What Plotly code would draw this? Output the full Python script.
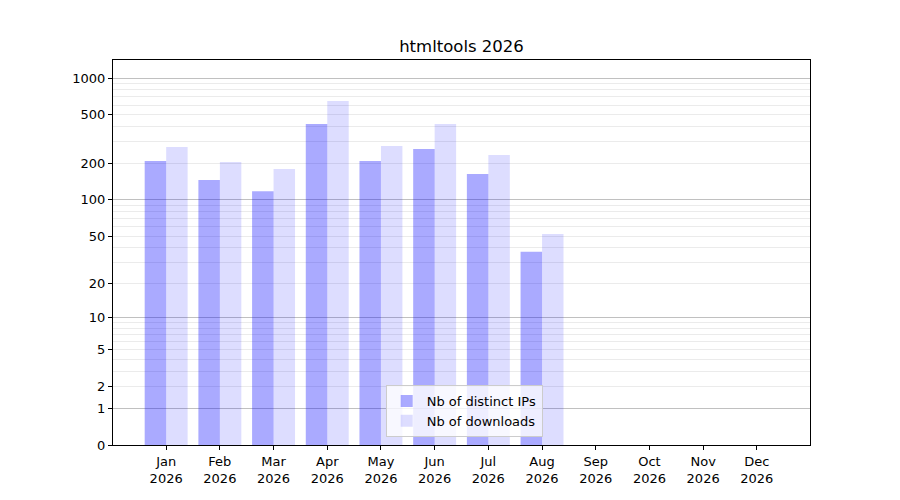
import plotly.graph_objects as go

months = ['Jan', 'Feb', 'Mar', 'Apr', 'May', 'Jun',
          'Jul', 'Aug', 'Sep', 'Oct', 'Nov', 'Dec']
year = 2026
distinct_ips = [209, 146, 118, 420, 209, 262, 163, 37, 0, 0, 0, 0]
downloads = [272, 205, 180, 649, 277, 420, 234, 52, 0, 0, 0, 0]

y_ticks = [0, 1, 2, 5, 10, 20, 50, 100, 200, 500, 1000]
y_major_grid = [1, 10, 100, 1000]
y_minor_grid = [m * 10 ** k for k in range(3) for m in range(2, 10)]

labels = [f'{m}<br>{year}' for m in months]

# page body adds 8px, margins are set to make up for it
L, R, T, B = 105, 98, 52, 63

# axis is log(1 + n), bars start at base 1 so they show n
fig = go.Figure()
fig.add_trace(go.Bar(x=labels, y=distinct_ips, base=1, name='Nb of distinct IPs',
                     marker=dict(color='rgba(0,0,255,0.333)', line_width=0)))
fig.add_trace(go.Bar(x=labels, y=downloads, base=1, name='Nb of downloads',
                     marker=dict(color='rgba(0,0,255,0.133)', line_width=0)))
# empty trace so the overlay axis (darker grid) is drawn
fig.add_trace(go.Scatter(x=[labels[0]], y=[None], yaxis='y2', showlegend=False,
                         hoverinfo='skip', mode='markers'))

axis_font = dict(family='DejaVu Sans', size=13, color='black')
cx = (L + (900 - R)) / 2 / 900

fig.update_layout(
    width=900, height=500,
    margin=dict(l=L, r=R, t=T, b=B),
    plot_bgcolor='white', paper_bgcolor='white',
    barmode='group', bargap=0.2, bargroupgap=0,
    font=axis_font,
    title=dict(text='htmltools 2026', x=cx, xanchor='center',
               y=1 - 38 / 500, yanchor='middle',
               font=dict(family='DejaVu Sans', size=16.5, color='black')),
    xaxis=dict(range=[-0.99, 11.99], showline=True, linecolor='black', linewidth=1,
               mirror=True, ticks='outside', ticklen=4, tickcolor='black',
               showgrid=False, tickfont=axis_font),
    yaxis=dict(type='log', range=[0, 3.148], showline=True, linecolor='black',
               linewidth=1, mirror=True, ticks='outside', ticklen=4, tickcolor='black',
               tickvals=[t + 1 for t in y_ticks], ticktext=[str(t) for t in y_ticks],
               showgrid=False, zeroline=False, tickfont=axis_font,
               minor=dict(tickvals=[t + 1 for t in y_minor_grid], showgrid=True,
                          gridcolor='#ebebeb', gridwidth=1, ticks='')),
    yaxis2=dict(type='log', range=[0, 3.148], overlaying='y', side='left',
                tickvals=[t + 1 for t in y_major_grid], showticklabels=False,
                ticks='', showgrid=True, gridcolor='#c0c0c0', gridwidth=1,
                showline=False, zeroline=False),
    legend=dict(x=cx, xanchor='center', y=8 / 385, yanchor='bottom',
                bgcolor='rgba(255,255,255,0.8)', bordercolor='#cccccc', borderwidth=1,
                font=dict(family='DejaVu Sans', size=13, color='black')),
)

fig.write_html('out.html')
